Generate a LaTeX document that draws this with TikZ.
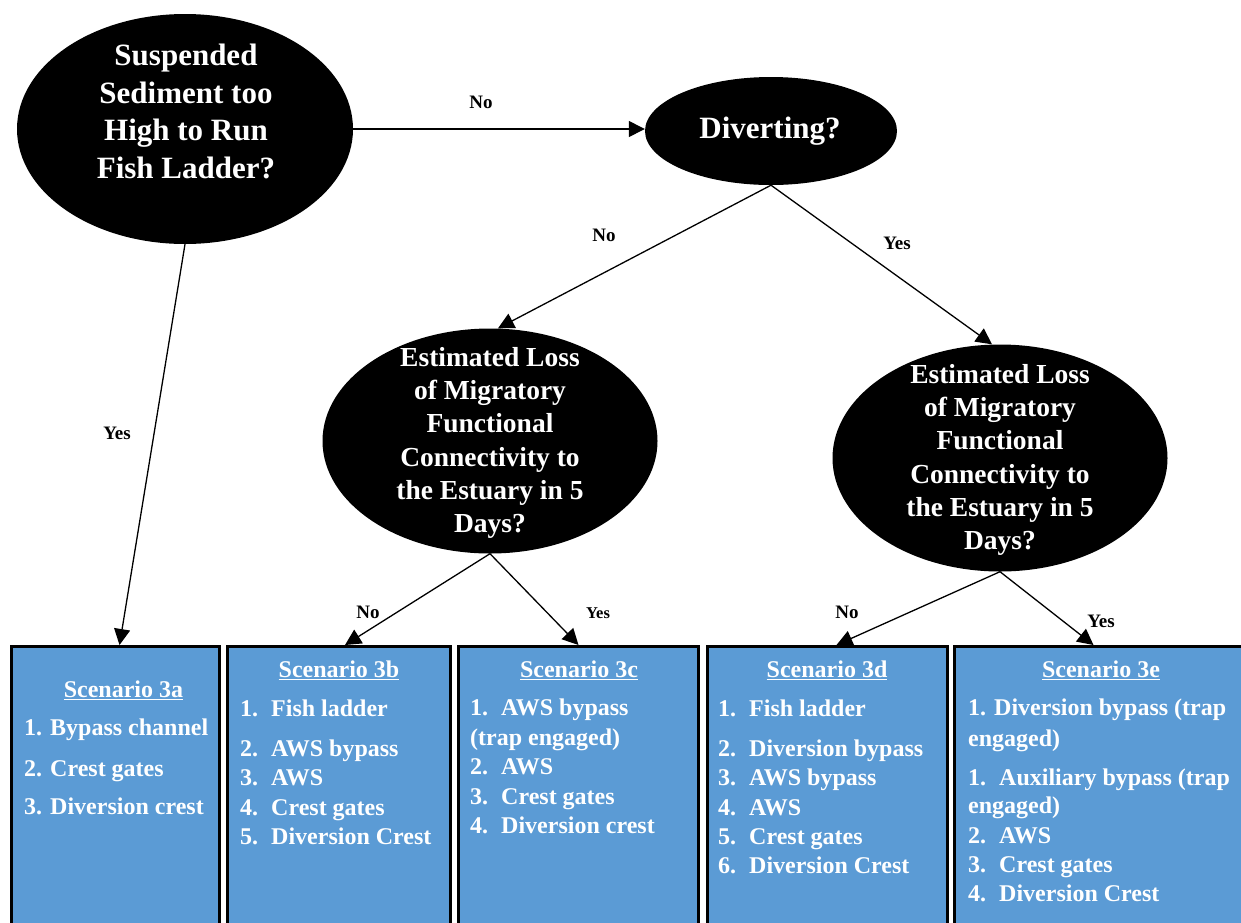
\documentclass[tikz,border=0pt]{standalone}
\usepackage{fontspec}
\setmainfont{Liberation Serif}
\usetikzlibrary{arrows.meta,shapes.geometric}
\definecolor{boxblue}{RGB}{91,155,213}
% underlined heading with a thicker rule
\newcommand\hdrline[1]{\setbox0\hbox{#1}\rlap{\rule[-3.2pt]{\wd0}{1.6pt}}\box0}
% numbered item with a fixed indent for the text
\newcommand\itm[2]{\makebox[31pt][l]{#1}#2}

\begin{document}
\begin{tikzpicture}[x=1pt,y=-1pt,
  decision/.style={ellipse, fill=black, draw=none, inner sep=0pt},
  qbig/.style={text=white, align=center, inner sep=0pt,
    font=\bfseries\fontsize{31}{37.5}\selectfont},
  qsmall/.style={text=white, align=center, inner sep=0pt,
    font=\bfseries\fontsize{27.5}{33.2}\selectfont},
  scenbox/.style={rectangle, fill=boxblue, draw=black, line width=3pt,
    minimum height=320pt, anchor=north, inner sep=0pt},
  hdr/.style={text=white, inner sep=0pt, anchor=base,
    font=\bfseries\fontsize{24}{29.3}\selectfont},
  lst/.style={text=white, inner sep=0pt, anchor=north west, align=left,
    font=\bfseries\fontsize{24}{29.3}\selectfont},
  lbl/.style={inner sep=0pt, font=\bfseries\fontsize{19}{22}\selectfont},
  conn/.style={draw=black, line width=1.3pt,
    -{Triangle[length=16pt,width=16pt]}}
]
\useasboundingbox (0,0) rectangle (1241,922);
\clip (0,0) rectangle (1241,922);

% decision ellipses
\node[decision, minimum width=336pt, minimum height=230pt] (e1) at (185,129) {};
\node[decision, minimum width=252pt, minimum height=108pt] (e2) at (771,131) {};
\node[decision, minimum width=335pt, minimum height=225pt] (e3) at (490,441) {};
\node[decision, minimum width=335pt, minimum height=227pt] (e4) at (1000,458) {};

\node[qbig] (t1) at (186,111.5) {Suspended\\Sediment too\\High to Run\\Fish Ladder?};
\node[qbig] (t2) at (770,131) {Diverting?};
\node[qsmall] (t3) at (490,443) {Estimated Loss\\of Migratory\\Functional\\Connectivity to\\the Estuary in 5\\Days?};
\node[qsmall] (t4) at (1000,460) {Estimated Loss\\of Migratory\\Functional\\Connectivity to\\the Estuary in 5\\Days?};

% scenario boxes
\node[scenbox, minimum width=208pt] (ba) at (115.5,645) {};
\node[scenbox, minimum width=223pt] (bb) at (339,645) {};
\node[scenbox, minimum width=240pt] (bc) at (578.5,645) {};
\node[scenbox, minimum width=240pt] (bd) at (827.5,645) {};
\node[scenbox, minimum width=290pt] (be) at (1099.5,645) {};

% box contents
\node[hdr] (ha) at (123.5,697) {\hdrline{Scenario 3a}};
\node[lst] (la) at (24,718.5) {1. Bypass channel\\[11.7pt]2. Crest gates\\[8.7pt]3. Diversion crest};

\node[hdr] (hb) at (339,677) {\hdrline{Scenario 3b}};
\node[lst] (lb) at (240,699.5) {\itm{1.}{Fish ladder}\\[11pt]\itm{2.}{AWS bypass}\\\itm{3.}{AWS}\\\itm{4.}{Crest gates}\\\itm{5.}{Diversion Crest}};

\node[hdr] (hc) at (579,677) {\hdrline{Scenario 3c}};
\node[lst] (lc) at (470,699) {\itm{1.}{AWS bypass}\\[0.3pt](trap engaged)\\\itm{2.}{AWS}\\[0.3pt]\itm{3.}{Crest gates}\\\itm{4.}{Diversion crest}};

\node[hdr] (hd) at (827,677) {\hdrline{Scenario 3d}};
\node[lst] (ld) at (718,699.5) {\itm{1.}{Fish ladder}\\[11pt]\itm{2.}{Diversion bypass}\\\itm{3.}{AWS bypass}\\\itm{4.}{AWS}\\\itm{5.}{Crest gates}\\\itm{6.}{Diversion Crest}};

\node[hdr] (he) at (1101,677) {\hdrline{Scenario 3e}};
\node[lst] (le) at (968,699) {1. Diversion bypass (trap\\[1.7pt]engaged)\\[9.7pt]\itm{1.}{Auxiliary bypass (trap}\\[-1.3pt]engaged)\\\itm{2.}{AWS}\\\itm{3.}{Crest gates}\\\itm{4.}{Diversion Crest}};

% connectors
\draw[conn] (e1.east) -- (e1.east -| e2.west);
\draw[conn] (e1.south) -- ([xshift=4pt]ba.north);
\draw[conn] (e2.south) -- ([xshift=8pt]e3.north);
\draw[conn] (e2.south) -- ([xshift=-8pt]e4.north);
\draw[conn] (e3.south) -- ([xshift=6pt]bb.north);
\draw[conn] (e3.south) -- (bc.north);
\draw[conn] (e4.south) -- ([xshift=9pt]bd.north);
\draw[conn] (e4.south) -- ([xshift=-6pt]be.north);

% branch labels
\node[lbl] (n1) at (481,102) {No};
\node[lbl] (n2) at (604,235) {No};
\node[lbl] (y1) at (897,243) {Yes};
\node[lbl] (y2) at (117,433) {Yes};
\node[lbl] (n3) at (368,612) {No};
\node[lbl, font=\bfseries\fontsize{16.5}{20}\selectfont] (y3) at (598,613) {Yes};
\node[lbl] (n4) at (847,612) {No};
\node[lbl] (y4) at (1101,621) {Yes};
\end{tikzpicture}
\end{document}
